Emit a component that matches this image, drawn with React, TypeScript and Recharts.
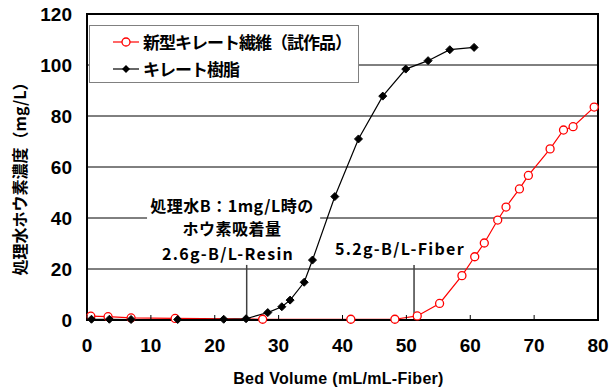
import React from 'react';
import {
  LineChart,
  Line,
  XAxis,
  YAxis,
  CartesianGrid,
  Legend,
  ReferenceArea,
  ReferenceLine,
  ReferenceDot,
} from 'recharts';

// 新型キレート繊維（試作品）
const fiberBV = [0.6, 3.3, 6.9, 13.8, 27.5, 41.3, 48.2, 51.7, 55.2, 58.7, 60.7, 62.2, 64.3, 65.6, 67.7, 69.1, 72.5, 74.6, 76.1, 79.4];
const fiberConc = [1.5, 1.3, 0.8, 0.6, 0.3, 0.3, 0.3, 1.6, 6.5, 17.4, 24.8, 30.2, 39.2, 44.3, 51.4, 56.7, 67.1, 74.5, 75.8, 83.5];

// キレート樹脂
const resinBV = [0.7, 3.5, 6.9, 14.2, 21.4, 24.9, 28.3, 30.5, 31.8, 34.0, 35.3, 38.8, 42.5, 46.3, 49.9, 53.4, 56.8, 60.6];
const resinConc = [0.3, 0.3, 0.2, 0.2, 0.3, 0.5, 2.9, 5.2, 7.8, 14.8, 23.5, 48.4, 71.0, 87.8, 98.4, 101.7, 106.0, 106.9];

const xTicks = [0, 10, 20, 30, 40, 50, 60, 70, 80];
const yTicks = [0, 20, 40, 60, 80, 100, 120];

const fiberName = '新型キレート繊維（試作品）';
const resinName = 'キレート樹脂';
const legendOrder = [fiberName, resinName];

// breakthrough points at B 1mg/L
const resinBreak = 25;
const fiberBreak = 51.2;

const fiberData = fiberBV.map((x, i) => ({ x, y: fiberConc[i] }));
const resinData = resinBV.map((x, i) => ({ x, y: resinConc[i] }));

const NUM_FONT = '"Liberation Sans", Arial, sans-serif';
const JP_FONT = '"Noto Sans CJK JP", "Noto Sans", sans-serif';

const CircleDot = (props: any) => {
  const { cx, cy } = props;
  if (cx == null || cy == null) return null;
  return <circle cx={cx} cy={cy} r={4} fill='#fff' stroke='#ff0000' strokeWidth={1.3} />;
};

const DiamondDot = (props: any) => {
  const { cx, cy } = props;
  if (cx == null || cy == null) return null;
  const s = 4;
  return (
    <polygon
      points={`${cx},${cy - s} ${cx + s},${cy} ${cx},${cy + s} ${cx - s},${cy}`}
      fill='#000'
      stroke='#000'
    />
  );
};

const XTick = (props: any) => {
  const { x, y, payload } = props;
  return (
    <g>
      <line x1={x} x2={x} y1={y} y2={y - 5} stroke='#000' strokeWidth={1} />
      <text
        x={x}
        y={y + 32}
        textAnchor='middle'
        fontFamily={NUM_FONT}
        fontWeight='bold'
        fontSize={19}
        fill='#000'
      >
        {payload.value}
      </text>
    </g>
  );
};

const LegendBox = (props: any) => {
  const items = [...(props.payload || [])].sort(
    (a: any, b: any) => legendOrder.indexOf(a.value) - legendOrder.indexOf(b.value)
  );
  return (
    <div
      style={{
        width: 270,
        height: 58,
        border: '1px solid #808080',
        background: '#fff',
        boxSizing: 'border-box',
        paddingTop: 2,
      }}
    >
      {items.map((entry: any, i: number) => (
        <div key={`leg-${i}`} style={{ display: 'flex', alignItems: 'center', height: 27 }}>
          <svg width={50} height={14}>
            <line x1={23} x2={49} y1={7} y2={7} stroke={entry.color} strokeWidth={1.2} />
            {entry.value === fiberName ? (
              <circle cx={36} cy={7} r={4} fill='#fff' stroke='#ff0000' strokeWidth={1.3} />
            ) : (
              <polygon points='36,3 40,7 36,11 32,7' fill='#000' />
            )}
          </svg>
          <span
            style={{
              marginLeft: 3,
              fontFamily: JP_FONT,
              fontWeight: 700,
              fontSize: 17,
              letterSpacing: -1,
              color: '#000',
              lineHeight: '20px',
            }}
          >
            {entry.value}
          </span>
        </div>
      ))}
    </div>
  );
};

const renderNote = (props: any) => {
  const { viewBox } = props;
  const cx = viewBox.x + 85;
  const top = viewBox.y;
  const style = { fontFamily: JP_FONT, fontWeight: 700, fontSize: 16, fill: '#000' };
  return (
    <g>
      <text x={cx} y={top + 20} textAnchor='middle' dominantBaseline='central' letterSpacing={0.5} {...style}>
        処理水B：1mg/L時の
      </text>
      <text x={cx} y={top + 43} textAnchor='middle' dominantBaseline='central' letterSpacing={0.5} {...style}>
        ホウ素吸着量
      </text>
      <text
        x={cx - 4}
        y={top + 68}
        textAnchor='middle'
        dominantBaseline='central'
        letterSpacing={1.3}
        {...style}
      >
        2.6g-B/L-Resin
      </text>
    </g>
  );
};

const renderFiberNote = (props: any) => {
  const { viewBox } = props;
  return (
    <text
      x={viewBox.x}
      y={viewBox.y}
      textAnchor='middle'
      dominantBaseline='central'
      letterSpacing={1.3}
      fontFamily={JP_FONT}
      fontWeight={700}
      fontSize={16}
      fill='#000'
    >
      5.2g-B/L-Fiber
    </text>
  );
};

const renderYLabel = (props: any) => {
  const { viewBox } = props;
  const x = viewBox.x + 19;
  const y = viewBox.y + viewBox.height / 2 + 8;
  return (
    <text
      x={x}
      y={y}
      transform={`rotate(-90 ${x} ${y})`}
      textAnchor='middle'
      dominantBaseline='central'
      fontFamily={JP_FONT}
      fontWeight={700}
      fontSize={16}
      fill='#000'
    >
      処理水ホウ素濃度（mg/L）
    </text>
  );
};

const renderXLabel = (props: any) => {
  const { viewBox } = props;
  return (
    <text
      x={viewBox.x + viewBox.width / 2 - 4}
      y={viewBox.y + 64}
      textAnchor='middle'
      fontFamily={NUM_FONT}
      fontWeight='bold'
      fontSize={16}
      letterSpacing={0.3}
      fill='#000'
    >
      Bed Volume (mL/mL-Fiber)
    </text>
  );
};

const App: React.FC = () => {
  return (
    <div style={{ position: 'absolute', left: 0, top: 0, width: 613, height: 389, background: '#fff' }}>
      <LineChart width={613} height={389} margin={{ top: 14, right: 15, bottom: 0, left: 0 }}>
        <CartesianGrid horizontal vertical={false} stroke='#000' strokeWidth={1} />
        <XAxis
          type='number'
          dataKey='x'
          domain={[0, 80]}
          ticks={xTicks}
          height={69}
          tickLine={false}
          tickSize={0}
          tickMargin={0}
          axisLine={{ stroke: '#000', strokeWidth: 2 }}
          tick={<XTick />}
          label={renderXLabel}
        />
        <YAxis
          type='number'
          dataKey='y'
          domain={[0, 120]}
          ticks={yTicks}
          width={87}
          tickLine={false}
          tickSize={0}
          tickMargin={15}
          axisLine={{ stroke: '#000', strokeWidth: 2 }}
          tick={{ fill: '#000', fontFamily: NUM_FONT, fontWeight: 'bold', fontSize: 19 }}
          label={renderYLabel}
        />
        <ReferenceArea x1={0} x2={80} y1={0} y2={120} fill='none' stroke='#000' strokeWidth={2} />
        <ReferenceArea
          x1={9.4}
          x2={36.5}
          y1={21.6}
          y2={53}
          fill='#fff'
          fillOpacity={1}
          stroke='none'
          label={renderNote}
        />
        <ReferenceLine
          segment={[{ x: resinBreak, y: 0 }, { x: resinBreak, y: 21.6 }]}
          stroke='#404040'
          strokeWidth={1.5}
        />
        <ReferenceLine
          segment={[{ x: fiberBreak, y: 0 }, { x: fiberBreak, y: 21.6 }]}
          stroke='#404040'
          strokeWidth={1.5}
        />
        <ReferenceDot x={49} y={28.2} r={0} fill='none' stroke='none' label={renderFiberNote} />
        <Legend
          layout='vertical'
          align='center'
          verticalAlign='middle'
          wrapperStyle={{ left: 89, top: 25, width: 270 }}
          content={<LegendBox />}
        />
        <Line
          data={fiberData}
          dataKey='y'
          name={fiberName}
          stroke='#ff0000'
          strokeWidth={1.2}
          dot={<CircleDot />}
          activeDot={false}
          isAnimationActive={false}
        />
        <Line
          data={resinData}
          dataKey='y'
          name={resinName}
          stroke='#000'
          strokeWidth={1.2}
          dot={<DiamondDot />}
          activeDot={false}
          isAnimationActive={false}
        />
      </LineChart>
    </div>
  );
};

export default App;
